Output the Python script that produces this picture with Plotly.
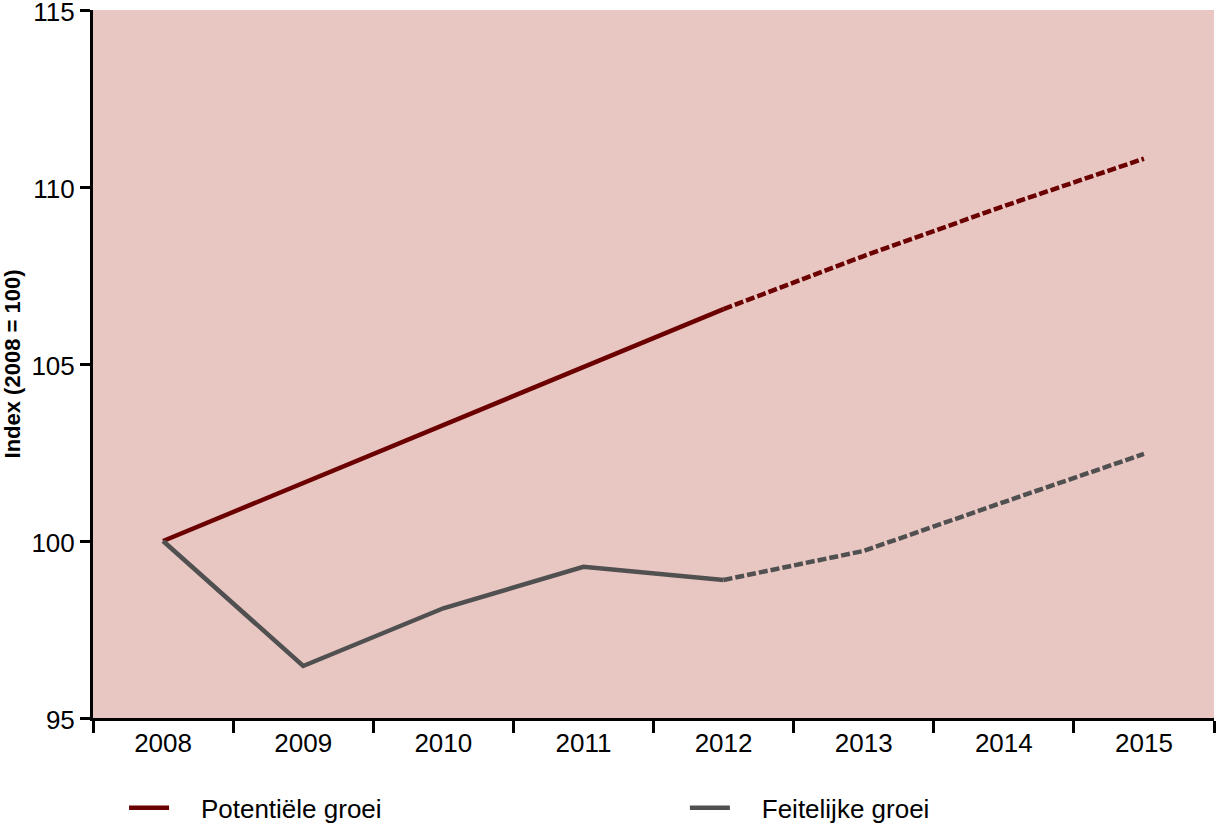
import plotly.graph_objects as go

years = ['2008', '2009', '2010', '2011', '2012', '2013', '2014', '2015']
potentieel = [100.0, 101.64, 103.28, 104.89, 106.55, 108.05, 109.46, 110.8]
feitelijk = [100.0, 96.47, 98.1, 99.27, 98.9, 99.72, 101.1, 102.46]
split = 4  # vanaf 2012 raming (gestippeld)
yticks = [95, 100, 105, 110, 115]

rood = '#6b0000'
grijs = '#505050'
font = 'Liberation Sans, Arial, sans-serif'
pad = '\u00a0\u00a0\u00a0\u2009'

fig = go.Figure()

fig.add_trace(go.Scatter(x=years[:split + 1], y=potentieel[:split + 1], mode='lines',
                         name=pad + 'Potentiële groei', legend='legend',
                         line=dict(color=rood, width=4.5)))
fig.add_trace(go.Scatter(x=years[split:], y=potentieel[split:], mode='lines',
                         showlegend=False, line=dict(color=rood, width=4.5, dash='9px,3px')))
fig.add_trace(go.Scatter(x=years[:split + 1], y=feitelijk[:split + 1], mode='lines',
                         name=pad + 'Feitelijke groei', legend='legend2',
                         line=dict(color=grijs, width=4.5)))
fig.add_trace(go.Scatter(x=years[split:], y=feitelijk[split:], mode='lines',
                         showlegend=False, line=dict(color=grijs, width=4.5, dash='9px,3px')))

fig.update_xaxes(type='category', range=[-0.5, 7.5], showline=True, linewidth=3,
                 linecolor='black', ticks='outside', ticklen=12, tickwidth=3,
                 tickcolor='black', tickson='boundaries', showgrid=False,
                 tickfont=dict(size=26, color='black'))
fig.update_yaxes(range=[95, 115], tickvals=yticks, showline=True, linewidth=3,
                 linecolor='black', ticks='outside', ticklen=10, tickwidth=3,
                 tickcolor='black', showgrid=False, zeroline=False,
                 ticklabeloverflow='allow', ticklabelshift=2,
                 tickfont=dict(size=26, color='black'),
                 title=dict(text='<b>Index (2008 = 100)</b>', font=dict(size=22, color='black'),
                            standoff=20))

leg = dict(orientation='h', y=-0.127, yanchor='middle', xanchor='left',
           font=dict(size=26), itemwidth=40, bgcolor='rgba(0,0,0,0)')

fig.update_layout(
    width=1218, height=826,
    margin=dict(l=93, r=4, t=10, b=108, autoexpand=False),
    plot_bgcolor='#e8c6c2', paper_bgcolor='white',
    font=dict(family=font, color='black'),
    showlegend=True,
    legend=dict(leg, x=0.0277),
    legend2=dict(leg, x=0.528),
)

# body-marge van de pagina weg, zodat de figuur precies in het venster valt
fig.write_html('out.html', config={'displayModeBar': False},
               post_script="document.body.style.margin='0';")
